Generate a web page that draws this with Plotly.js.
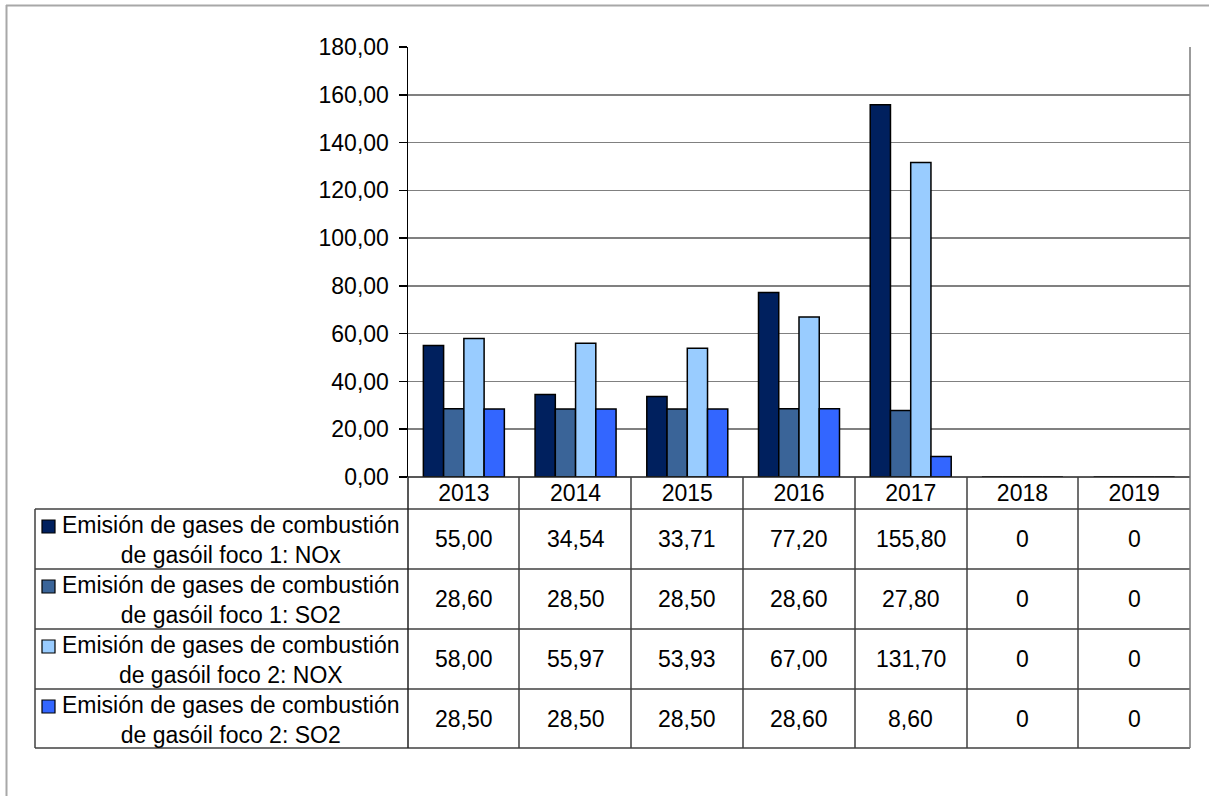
<!DOCTYPE html>
<html>
<head>
<meta charset="utf-8">
<script src="https://cdn.plot.ly/plotly-3.0.1.min.js"></script>
<style>
html,body{margin:0;padding:0;background:#fff;}
#chart{width:1209px;height:796px;}
</style>
</head>
<body>
<div id="chart"></div>
<script>
// ---- data ----
var years = ["2013", "2014", "2015", "2016", "2017", "2018", "2019"];
var seriesNames = [
  "Emisión de gases de combustión<br>de gasóil foco 1: NOx",
  "Emisión de gases de combustión<br>de gasóil foco 1: SO2",
  "Emisión de gases de combustión<br>de gasóil foco 2: NOX",
  "Emisión de gases de combustión<br>de gasóil foco 2: SO2"
];
var foco1NOx = [55.00, 34.54, 33.71, 77.20, 155.80, 0, 0];
var foco1SO2 = [28.60, 28.50, 28.50, 28.60, 27.80, 0, 0];
var foco2NOX = [58.00, 55.97, 53.93, 67.00, 131.70, 0, 0];
var foco2SO2 = [28.50, 28.50, 28.50, 28.60, 8.60, 0, 0];
var yTickVals = [0, 20, 40, 60, 80, 100, 120, 140, 160, 180];

(function(){
var seriesValues = [foco1NOx, foco1SO2, foco2NOX, foco2SO2];
var colors = ["#00205E", "#3A6498", "#99CCFF", "#3366FF"];

// ---- geometry (pixels) ----
var W = 1209, H = 796;
function px(x){ return x / W; }
function py(y){ return 1 - y / H; }
var plotL = 408, plotR = 1190, plotT = 47, plotB = 477;
var tableL = 35, headerB = 509;
var rowLines = [509, 569, 629, 689, 748];
var colLines = [519, 631, 743, 855, 967, 1078];

var FONT = "Liberation Sans, Arial, sans-serif";
var FS = 23;

var traces = seriesValues.map(function(vals, i){
  return {
    type: "bar",
    x: years,
    y: vals,
    name: seriesNames[i],
    marker: {color: colors[i], line: {color: "#000000", width: 1.5}},
    showlegend: false,
    hoverinfo: "x+y"
  };
});

function fmt(v){
  if (v === 0) return "0";
  return v.toFixed(2).replace(".", ",");
}

var annotations = [];
var shapes = [];
var lineColor = "#404040";

for (var i = 0; i < seriesValues.length; i++) {
  var rTop = rowLines[i], rBot = rowLines[i + 1];
  var cy = (rTop + rBot) / 2;
  annotations.push({
    xref: "paper", yref: "paper",
    x: px(231), y: py(cy + 1),
    text: seriesNames[i],
    showarrow: false,
    xanchor: "center", yanchor: "middle", align: "center",
    font: {family: FONT, size: FS, color: "#000"}
  });
  shapes.push({
    type: "rect", xref: "paper", yref: "paper",
    x0: px(42), x1: px(55), y0: py(rTop + 11), y1: py(rTop + 24),
    fillcolor: colors[i], line: {color: "#000", width: 1.2}
  });
  for (var j = 0; j < years.length; j++) {
    annotations.push({
      xref: "x", yref: "paper",
      x: j, y: py(cy),
      text: fmt(seriesValues[i][j]),
      showarrow: false,
      xanchor: "center", yanchor: "middle",
      font: {family: FONT, size: FS, color: "#000"}
    });
  }
}

rowLines.forEach(function(y){
  shapes.push({type: "line", xref: "paper", yref: "paper",
    x0: px(tableL), x1: px(plotR), y0: py(y), y1: py(y),
    line: {color: lineColor, width: 1.5}});
});
shapes.push({type: "line", xref: "paper", yref: "paper",
  x0: px(plotL), x1: px(plotR), y0: py(plotB), y1: py(plotB),
  line: {color: "#202020", width: 1.5}});
shapes.push({type: "line", xref: "paper", yref: "paper",
  x0: px(tableL), x1: px(tableL), y0: py(headerB), y1: py(748),
  line: {color: lineColor, width: 1.5}});
shapes.push({type: "line", xref: "paper", yref: "paper",
  x0: px(plotL), x1: px(plotL), y0: py(plotB), y1: py(748),
  line: {color: "#202020", width: 1.5}});
colLines.forEach(function(x){
  shapes.push({type: "line", xref: "paper", yref: "paper",
    x0: px(x), x1: px(x), y0: py(plotB), y1: py(748),
    line: {color: lineColor, width: 1.5}});
});
shapes.push({type: "line", xref: "paper", yref: "paper",
  x0: px(plotR), x1: px(plotR), y0: py(plotT), y1: py(748),
  line: {color: "#7a7a7a", width: 1.5}});
shapes.push({type: "line", xref: "paper", yref: "paper",
  x0: px(6), x1: 1, y0: py(5.5), y1: py(5.5),
  line: {color: "#a8a8a8", width: 2}});
shapes.push({type: "line", xref: "paper", yref: "paper",
  x0: px(6.5), x1: px(6.5), y0: py(5), y1: 0,
  line: {color: "#a8a8a8", width: 2}});

var layout = {
  width: W, height: H,
  margin: {l: 0, r: 0, t: 0, b: 0},
  paper_bgcolor: "#ffffff",
  plot_bgcolor: "#ffffff",
  barmode: "group",
  bargap: 0.275,
  bargroupgap: 0,
  separators: ",.",
  font: {family: FONT, size: FS, color: "#000"},
  xaxis: {
    domain: [px(plotL), px(plotR)],
    type: "category",
    categoryorder: "array",
    categoryarray: years,
    range: [-0.5, years.length - 0.5],
    autorange: false,
    showline: false,
    showgrid: false,
    zeroline: false,
    ticks: "",
    tickfont: {family: FONT, size: FS, color: "#000"},
    fixedrange: true
  },
  yaxis: {
    domain: [py(plotB), py(plotT)],
    range: [0, 180],
    autorange: false,
    tickmode: "array",
    tickvals: yTickVals,
    tickformat: ".2f",
    showline: true,
    linecolor: "#000000",
    linewidth: 1.5,
    showgrid: true,
    gridcolor: "#808080",
    gridwidth: 1.5,
    zeroline: false,
    ticks: "outside",
    ticklen: 8,
    tickwidth: 1.5,
    tickcolor: "#000000",
    ticklabelstandoff: 5,
    tickfont: {family: FONT, size: FS, color: "#000"},
    fixedrange: true
  },
  annotations: annotations,
  shapes: shapes
};

Plotly.newPlot("chart", traces, layout, {displayModeBar: false, staticPlot: true});
})();
</script>
</body>
</html>
